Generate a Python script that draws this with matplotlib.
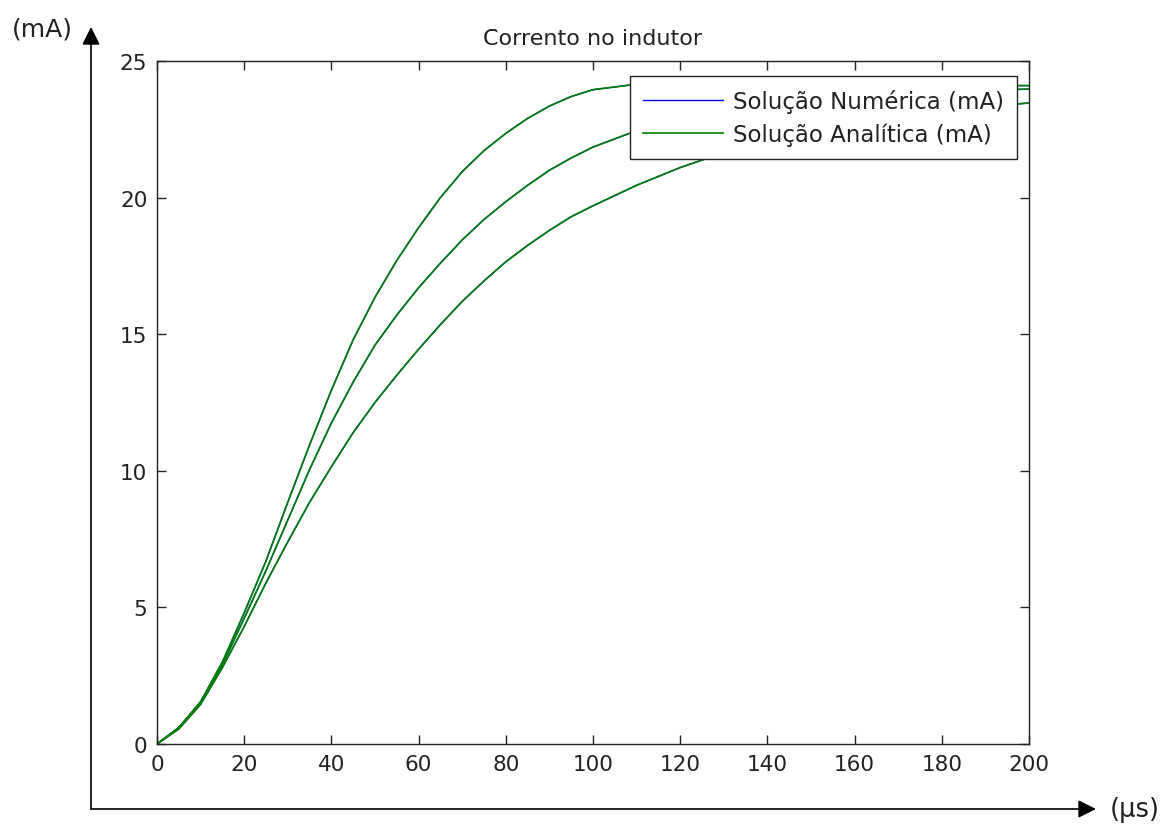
import matplotlib
matplotlib.use("Agg")
import matplotlib.pyplot as plt
from matplotlib.patches import FancyArrowPatch

# ---- data ----
t_us = [0, 5, 10, 15, 20, 25, 30, 35, 40, 45, 50, 55, 60, 65, 70, 75, 80, 85,
        90, 95, 100, 110, 120, 130, 140, 150, 160, 170, 180, 190, 200]

i_fast = [0, 0.6, 1.55, 3.0, 4.8, 6.7, 8.85, 10.95, 12.95, 14.8, 16.35, 17.7,
          18.9, 20.0, 20.95, 21.72, 22.35, 22.9, 23.35, 23.7, 23.95, 24.15,
          24.25, 24.25, 24.2, 24.15, 24.12, 24.1, 24.1, 24.1, 24.1]

i_mid = [0, 0.6, 1.5, 2.9, 4.6, 6.35, 8.2, 10.05, 11.75, 13.25, 14.6, 15.7,
         16.7, 17.6, 18.45, 19.2, 19.85, 20.45, 21.0, 21.45, 21.85, 22.45,
         22.9, 23.25, 23.5, 23.65, 23.78, 23.85, 23.9, 23.94, 23.97]

i_slow = [0, 0.55, 1.45, 2.8, 4.3, 5.9, 7.4, 8.85, 10.15, 11.4, 12.5, 13.5,
          14.45, 15.35, 16.2, 16.95, 17.65, 18.25, 18.8, 19.3, 19.7, 20.45,
          21.1, 21.65, 22.1, 22.45, 22.75, 23.0, 23.2, 23.35, 23.46]

numeric_series = [i_fast, i_mid, i_slow]
analytic_series = [i_fast, i_mid, i_slow]

x_ticks = [0, 20, 40, 60, 80, 100, 120, 140, 160, 180, 200]
y_ticks = [0, 5, 10, 15, 20, 25]

title_text = "C\u0304orrento no indutor"
legend_labels = ["Solução Numérica (mA)", "Solução Analítica (mA)"]

# ---- figure ----
W, H = 1171, 829
fig = plt.figure(figsize=(W / 100, H / 100), dpi=100)
fig.patch.set_facecolor("white")

def fx(px):
    return px / W

def fy(py):
    return 1 - py / H

ax_l, ax_r, ax_t, ax_b = 157, 1029, 62, 745
ax = fig.add_axes([fx(ax_l), fy(ax_b), fx(ax_r) - fx(ax_l), fy(ax_t) - fy(ax_b)])

blue = (0, 0, 1)
green = (0, 0.5, 0)
for k, s in enumerate(numeric_series):
    ax.plot(t_us, s, color=blue, lw=1.0,
            label=legend_labels[0] if k == 0 else None)
for k, s in enumerate(analytic_series):
    ax.plot(t_us, s, color=green, lw=1.2,
            label=legend_labels[1] if k == 0 else None)

ax.set_xlim(0, 200)
ax.set_ylim(0, 25)
ax.set_xticks(x_ticks)
ax.set_yticks(y_ticks)
ax.tick_params(direction="in", length=6.5, width=1, top=True, right=True,
               labelsize=15.5, colors="#222222", pad=7)
for sp in ax.spines.values():
    sp.set_linewidth(1.0)
    sp.set_color("#222222")

ax.set_title(title_text, fontsize=16, color="#222222", pad=12)

anchor_x = (1017 - ax_l) / (ax_r - ax_l)
anchor_y = 1 - (77 - ax_t) / (ax_b - ax_t)
leg = ax.legend(loc="upper right", bbox_to_anchor=(anchor_x, anchor_y),
                fontsize=16.5, frameon=True, fancybox=False, framealpha=1.0,
                handlelength=3.5, borderpad=0.55, labelspacing=0.45,
                handletextpad=0.45, borderaxespad=0.0)
leg.get_frame().set_edgecolor("#222222")
leg.get_frame().set_linewidth(1.0)
for txt in leg.get_texts():
    txt.set_color("#222222")

# ---- outer arrow axes ----
corner = (fx(91), fy(810))
arr_up = FancyArrowPatch(corner, (fx(91), fy(28)), transform=fig.transFigure,
                         arrowstyle="-|>,head_length=0.9,head_width=0.45",
                         mutation_scale=12, color="black", lw=1.2,
                         shrinkA=0, shrinkB=0)
arr_right = FancyArrowPatch(corner, (fx(1096), fy(810)), transform=fig.transFigure,
                            arrowstyle="-|>,head_length=0.9,head_width=0.45",
                            mutation_scale=12, color="black", lw=1.2,
                            shrinkA=0, shrinkB=0)
fig.add_artist(arr_up)
fig.add_artist(arr_right)

fig.text(fx(42), fy(29), "(mA)", fontsize=18, color="#222222",
         ha="center", va="center")
fig.text(fx(1135), fy(810), "(μs)", fontsize=18.5, color="#222222",
         ha="center", va="center")

fig.savefig("out.png", dpi=100, facecolor="white")
